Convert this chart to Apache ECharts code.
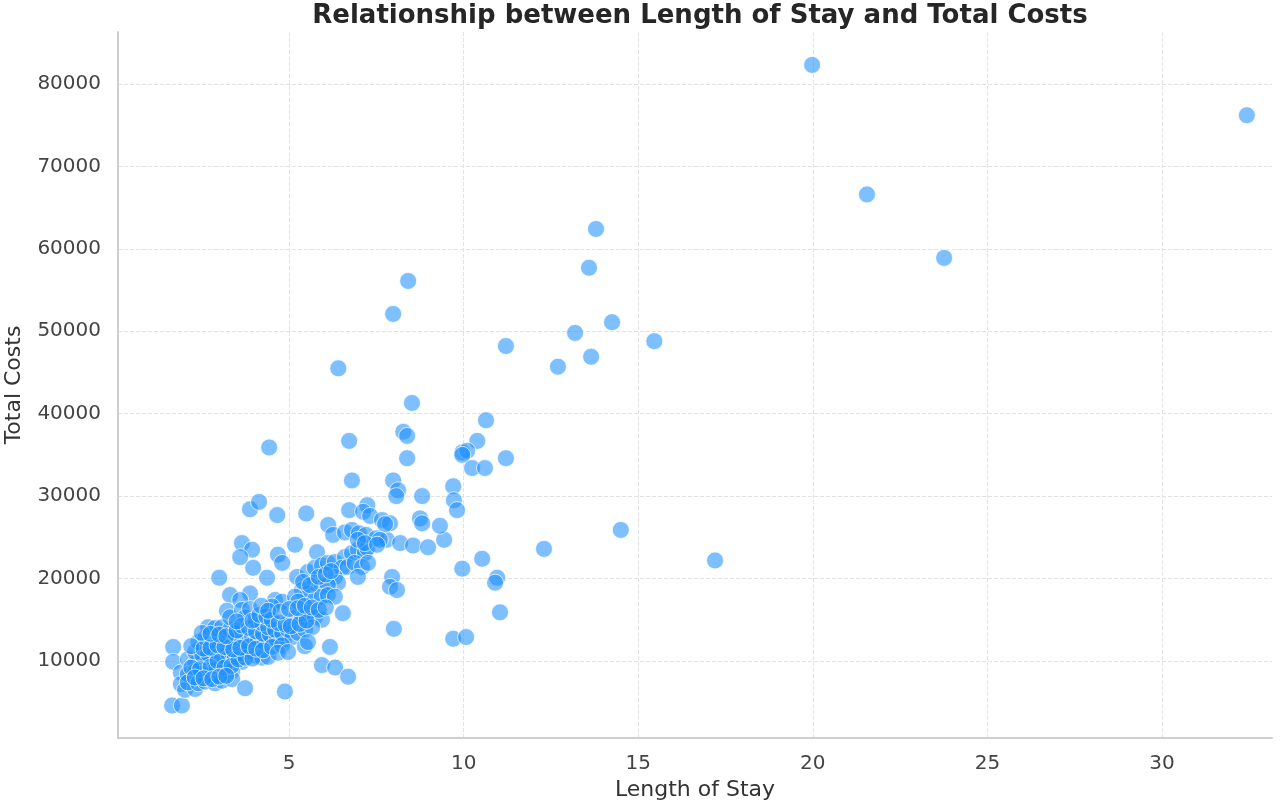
<!DOCTYPE html>
<html lang="en">
<head>
  <meta charset="UTF-8">
  <title>Length of Stay vs Total Costs</title>
  <script src="https://cdn.jsdelivr.net/npm/echarts@6/dist/echarts.min.js"></script>
</head>
<body style="margin:0;width:1280px;height:809px;overflow:hidden;background:#fff;">
  <div id="main" style="width:1280px;height:809px;"></div>
<script>
  // [length of stay (days), total costs]
  var shortStays = [
    [1.68, 11700], [1.68, 9900], [1.9, 8600], [1.9, 7200], [1.65, 4600], [1.93, 4600], [2.02, 6500], [2.31, 6600],
    [2.1, 10200], [2.31, 9700], [2.51, 9800], [2.68, 10300], [2.88, 9600], [3.08, 9500], [3.25, 10000], [3.45, 9700], [3.65, 9900],
    [2.1, 8400], [2.31, 8700], [2.51, 8500], [2.68, 8300], [2.88, 8900], [3.08, 8600], [3.37, 8800],
    [2.1, 7400], [2.4, 7300], [2.6, 7500], [2.88, 7300], [3.08, 7600], [3.37, 7800], [3.74, 6700],
    [2.31, 11100], [2.51, 10800], [2.68, 10900], [2.88, 11200], [3.08, 10600], [3.25, 11000], [3.45, 10500], [3.65, 10900],
    [3.82, 11200], [4.02, 10700], [4.23, 10400], [4.4, 10500],
    [2.4, 12300], [2.6, 12800], [2.8, 12500], [2.97, 12900], [3.17, 12600], [3.37, 12300], [3.54, 12800], [3.74, 12400],
    [3.94, 13000], [4.11, 12500], [4.31, 12200], [4.51, 12700],
    [2.68, 14100], [2.88, 14000], [3.08, 14100], [3.31, 13800], [3.45, 13400],
    [3.31, 18000], [3.88, 18200], [3.6, 17400], [3.22, 16100], [3.31, 15300], [3.65, 16200], [3.74, 15300], [3.88, 16300],
    [2.2, 9200], [2.45, 9000], [2.75, 9300], [2.95, 10000], [3.15, 9200], [3.35, 9400], [3.55, 10200], [3.75, 10400], [3.95, 10300],
    [2.2, 11800], [2.55, 11500], [2.75, 11600], [2.95, 11900], [3.15, 11700], [3.4, 11400], [3.6, 11600], [3.85, 11800],
    [4.05, 11500], [4.25, 11300],
    [2.5, 13400], [2.75, 13300], [3.0, 13200], [3.2, 13000], [3.5, 13700], [3.65, 14300], [3.85, 14000], [4.05, 13600],
    [4.25, 13300], [4.45, 13200], [4.65, 12600], [4.85, 12600],
    [2.3, 8000], [2.55, 7900], [2.8, 7800], [3.0, 8100], [3.2, 8200]
  ];

  var midStays = [
    [5.17, 24100], [5.8, 23200], [4.68, 22900], [4.8, 21900], [4.37, 20100], [5.23, 20200],
    [5.54, 20800], [5.74, 21300], [5.94, 21600], [6.11, 21900], [6.31, 22000],
    [6.6, 22600], [6.8, 23100], [6.97, 23500], [7.17, 23100], [7.24, 23700],
    [6.51, 21300], [6.68, 21400], [6.88, 21900], [7.09, 21400], [7.26, 21900],
    [6.31, 20200], [6.4, 19500], [6.97, 20200], [5.74, 19500], [5.94, 19000], [6.11, 19200],
    [5.37, 18600], [5.54, 18200], [4.6, 17400], [4.8, 17200], [4.51, 16600],
    [5.17, 17800], [5.26, 17200], [5.74, 17400], [5.94, 17800], [6.11, 18000], [6.31, 17800], [6.54, 15800],
    [5.17, 15200], [5.37, 15300], [5.54, 15800], [5.74, 15300], [5.94, 15000],
    [4.03, 14970], [4.23, 14600], [4.4, 14100], [4.6, 13800], [4.8, 13400], [4.97, 13800],
    [5.09, 12900], [5.26, 13400], [5.46, 13800], [5.66, 14100],
    [4.51, 11700], [4.8, 11900], [5.45, 11800], [5.54, 12300], [6.17, 11700], [4.68, 11000], [4.97, 11100],
    [5.94, 9500], [6.32, 9200], [6.69, 8100], [4.88, 6300],
    [3.5, 14800], [3.95, 14900], [4.15, 15600], [4.35, 15400], [4.5, 15000], [4.7, 14600], [4.9, 14400], [5.05, 14200],
    [5.3, 14500], [5.5, 14900], [4.2, 16700], [4.4, 16100], [4.75, 16000], [5.0, 16300], [5.25, 16400], [5.45, 16700],
    [5.65, 16500], [5.85, 16200], [6.05, 16500], [5.4, 19600], [5.6, 19200], [5.85, 20200], [6.05, 20500], [6.2, 20900]
  ];

  var longStays = [
    [3.88, 28400], [4.14, 29300], [4.66, 27700], [5.49, 27900], [4.43, 35900],
    [3.65, 24300], [3.94, 23500], [3.6, 22600], [3.97, 21300], [3.0, 20100],
    [6.72, 28300], [7.24, 28900], [7.12, 28100], [7.32, 27600],
    [6.12, 26500], [6.26, 25300], [6.6, 25600], [6.8, 25900], [7.0, 25500], [7.2, 25300], [7.5, 24900], [7.8, 24700],
    [6.97, 24700], [7.17, 24300], [7.66, 27100], [7.89, 26700], [7.75, 26600],
    [6.8, 31900], [6.72, 36700],
    [7.6, 24700], [7.52, 24100], [8.18, 24300], [8.55, 24000], [8.98, 23800], [9.44, 24700], [9.32, 26400],
    [8.75, 27300], [8.81, 26700],
    [7.98, 31900], [8.12, 30700], [8.07, 30000], [8.81, 30000], [9.7, 31200], [9.72, 29500], [9.81, 28300],
    [8.52, 41300], [10.64, 39200], [8.27, 37800], [8.38, 37300], [10.39, 36700], [9.96, 35300], [10.1, 35500],
    [9.96, 35000], [11.21, 34600], [8.38, 34600], [10.24, 33400], [10.61, 33400],
    [10.53, 22400], [9.96, 21200], [10.96, 20100], [10.9, 19500], [11.04, 15900], [9.7, 12700], [10.07, 12900],
    [7.95, 20200], [7.89, 19000], [8.09, 18600], [8.0, 13900],
    [12.3, 23600], [14.5, 25900], [17.2, 22200]
  ];

  var highCostStays = [
    [19.98, 82300], [32.43, 76200], [21.55, 66600], [23.76, 58900], [13.79, 62400], [13.59, 57700],
    [8.41, 56100], [7.98, 52100], [13.19, 49800], [14.25, 51100], [15.46, 48800], [11.21, 48200],
    [12.7, 45700], [13.65, 46900], [6.41, 45500]
  ];

  var xTicks = [5, 10, 15, 20, 25, 30];
  var yTicks = [10000, 20000, 30000, 40000, 50000, 60000, 70000, 80000];

  var allPoints = shortStays.concat(midStays, longStays, highCostStays);

  var font = 'DejaVu Sans';
  var myChart = echarts.init(document.getElementById('main'));

  var option = {
    backgroundColor: '#ffffff',
    animation: false,
    title: {
      text: 'Relationship between Length of Stay and Total Costs',
      left: 695,
      top: -2,
      textAlign: 'center',
      textStyle: { fontFamily: font, fontSize: 26, fontWeight: 'bold', color: '#262626' }
    },
    grid: { left: 118, right: 8, top: 32, bottom: 71, containLabel: false, outerBoundsMode: 'none' },
    xAxis: {
      type: 'value',
      min: 0.1,
      max: 33.15,
      name: 'Length of Stay',
      nameLocation: 'middle',
      nameGap: 40,
      nameTextStyle: { fontFamily: font, fontSize: 22, color: '#333' },
      axisLine: { show: true, lineStyle: { color: '#cfcfcf', width: 2 } },
      axisTick: { show: false, customValues: xTicks },
      axisLabel: { customValues: xTicks, fontFamily: font, fontSize: 20, color: '#444', margin: 16 },
      splitLine: { show: true, lineStyle: { color: '#e2e2e2', type: 'dashed', width: 1 } }
    },
    yAxis: {
      type: 'value',
      min: 659,
      max: 86300,
      name: 'Total Costs',
      nameLocation: 'middle',
      nameGap: 93,
      nameTextStyle: { fontFamily: font, fontSize: 22, color: '#333' },
      axisLine: { show: true, lineStyle: { color: '#cfcfcf', width: 2 } },
      axisTick: { show: false, customValues: yTicks },
      axisLabel: {
        customValues: yTicks, fontFamily: font, fontSize: 20, color: '#444', margin: 17,
        formatter: function (v) { return String(v); }
      },
      splitLine: { show: true, lineStyle: { color: '#e2e2e2', type: 'dashed', width: 1 } }
    },
    series: [{
      type: 'scatter',
      data: allPoints,
      symbolSize: 17,
      itemStyle: {
        color: 'rgba(30, 144, 255, 0.72)',
        borderColor: 'rgba(255, 255, 255, 0.9)',
        borderWidth: 1
      }
    }]
  };

  myChart.setOption(option);
</script>
</body>
</html>
